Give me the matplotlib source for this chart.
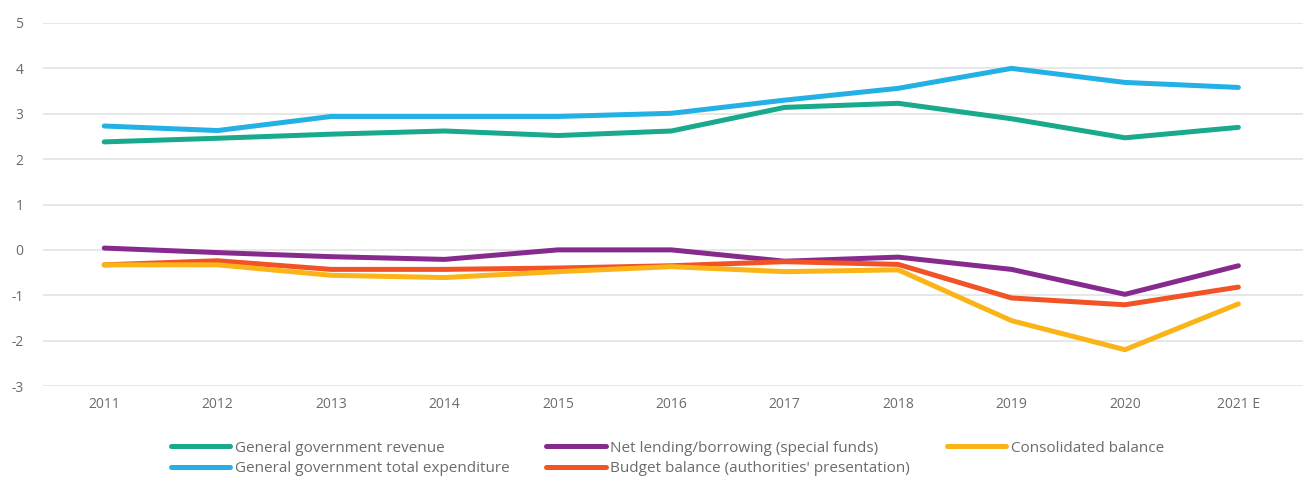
import matplotlib
matplotlib.use("Agg")
import matplotlib.pyplot as plt

plt.rcParams['font.family'] = ['Open Sans', 'DejaVu Sans']
plt.rcParams['axes.unicode_minus'] = False

years = ["2011", "2012", "2013", "2014", "2015", "2016", "2017", "2018", "2019", "2020", "2021 E"]

revenue = [2.38, 2.46, 2.55, 2.62, 2.52, 2.62, 3.14, 3.23, 2.89, 2.47, 2.70]
expenditure = [2.73, 2.63, 2.94, 2.94, 2.94, 3.01, 3.30, 3.56, 4.00, 3.69, 3.58]
net_lending = [0.04, -0.06, -0.15, -0.21, 0.00, 0.00, -0.25, -0.16, -0.43, -0.98, -0.35]
budget_balance = [-0.33, -0.24, -0.43, -0.43, -0.40, -0.35, -0.26, -0.32, -1.06, -1.21, -0.82]
consolidated = [-0.33, -0.33, -0.56, -0.61, -0.48, -0.37, -0.48, -0.44, -1.56, -2.20, -1.19]

series = [
    ("General government revenue", revenue, "#19a98c"),
    ("General government total expenditure", expenditure, "#22b0e5"),
    ("Net lending/borrowing (special funds)", net_lending, "#862b8d"),
    ("Budget balance (authorities' presentation)", budget_balance, "#f15226"),
    ("Consolidated balance", consolidated, "#fbb417"),
]

fig = plt.figure(figsize=(13.03, 4.78), dpi=100)
ax = fig.add_axes([43 / 1303, 1 - 386 / 478, 1 - 43 / 1303, (386 - 23) / 478])

x = range(len(years))
for name, vals, col in series:
    ax.plot(x, vals, color=col, lw=3.6, solid_capstyle='round', solid_joinstyle='round', label=name)

ax.set_ylim(-3, 5)
ax.set_xlim(-0.54, 10.57)
ax.set_yticks(range(-3, 6))
ax.set_xticks(list(x))
ax.set_xticklabels(years)
ax.grid(axis='y', color='#e3e3e3', lw=1.2)
ax.set_axisbelow(True)
for s in ax.spines.values():
    s.set_visible(False)
ax.tick_params(length=0, colors='#6b6b6b', labelsize=10)
ax.tick_params(axis='x', pad=8)
ax.tick_params(axis='y', pad=14)

# legend laid out in three columns under the axis
leg = fig.legend(loc='upper left', bbox_to_anchor=(160 / 1303, 1 - 430 / 478), ncol=3,
                 frameon=False, fontsize=11, handlelength=3.9, handletextpad=0.3,
                 columnspacing=2.4, labelspacing=0.35, labelcolor='#6b6b6b',
                 borderpad=0.2)

fig.savefig("out.png", dpi=100)
